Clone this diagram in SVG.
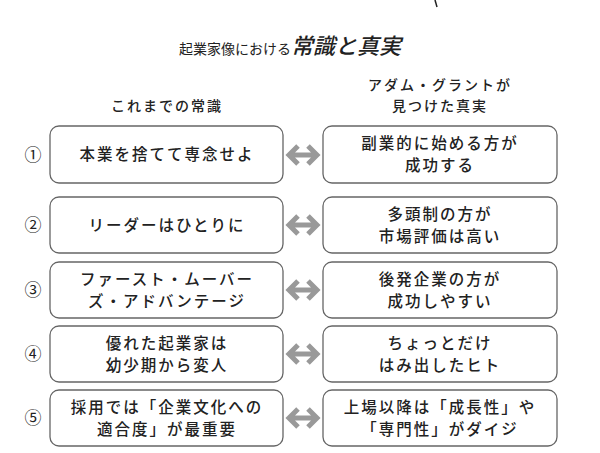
<svg xmlns="http://www.w3.org/2000/svg" width="600" height="453" viewBox="0 0 600 453">
<style>
text{font-family:"Noto Sans CJK JP","Noto Sans",sans-serif;fill:#222;text-anchor:middle;font-weight:500}
.b{fill:#fff;stroke:#666;stroke-width:1.3}
.t{font-size:15.5px;letter-spacing:2px}
.n{font-size:17px;font-weight:400}
.h{font-size:14px;letter-spacing:2px}
.ar{fill:none;stroke:#999;stroke-width:5;stroke-linejoin:miter}
</style>
<rect width="600" height="453" fill="#fff"/>
<path d="M435 0 L437 7" stroke="#222" stroke-width="1.5"/>
<g id="title"><text x="290" y="54"><tspan font-size="14" font-weight="400">起業家像における</tspan><tspan font-size="22" font-style="italic">常識と真実</tspan></text></g>
<g id="hdr-left"><text class="h" x="167" y="111">これまでの常識</text></g>
<g id="hdr-right"><text class="h" x="440" y="90">アダム・グラントが</text><text class="h" x="440" y="111">見つけた真実</text></g>
<g id="nums"><text class="n" x="33" y="161">①</text><text class="n" x="33" y="231">②</text><text class="n" x="33" y="296">③</text><text class="n" x="33" y="360">④</text><text class="n" x="33" y="424">⑤</text></g>
<g id="l1"><rect class="b" x="50" y="126" width="233" height="57" rx="9"/><text class="t" x="167" y="160">本業を捨てて専念せよ</text></g>
<g id="l2"><rect class="b" x="50" y="197" width="233" height="56" rx="9"/><text class="t" x="167" y="231">リーダーはひとりに</text></g>
<g id="l3"><rect class="b" x="50" y="262" width="233" height="56" rx="9"/><text class="t" x="167" y="285">ファースト・ムーバー</text><text class="t" x="167" y="307">ズ・アドバンテージ</text></g>
<g id="l4"><rect class="b" x="50" y="326" width="233" height="56" rx="9"/><text class="t" x="167" y="349">優れた起業家は</text><text class="t" x="167" y="371">幼少期から変人</text></g>
<g id="l5"><rect class="b" x="50" y="390" width="233" height="56" rx="9"/><text class="t" x="167" y="413">採用では「企業文化への</text><text class="t" x="167" y="435">適合度」が最重要</text></g>
<g id="r1"><rect class="b" x="323" y="126" width="234" height="57" rx="9"/><text class="t" x="440" y="149">副業的に始める方が</text><text class="t" x="440" y="171">成功する</text></g>
<g id="r2"><rect class="b" x="323" y="197" width="234" height="56" rx="9"/><text class="t" x="440" y="220">多頭制の方が</text><text class="t" x="440" y="242">市場評価は高い</text></g>
<g id="r3"><rect class="b" x="323" y="262" width="234" height="56" rx="9"/><text class="t" x="440" y="285">後発企業の方が</text><text class="t" x="440" y="307">成功しやすい</text></g>
<g id="r4"><rect class="b" x="323" y="326" width="234" height="56" rx="9"/><text class="t" x="440" y="349">ちょっとだけ</text><text class="t" x="440" y="371">はみ出したヒト</text></g>
<g id="r5"><rect class="b" x="323" y="390" width="234" height="56" rx="9"/><text class="t" x="440" y="413">上場以降は「成長性」や</text><text class="t" x="440" y="435">「専門性」がダイジ</text></g>
<g id="connectors">
<path class="ar" d="M289 155H317M298 146L289 155L298 164M308 146L317 155L308 164"/>
<path class="ar" d="M289 225H317M298 216L289 225L298 234M308 216L317 225L308 234"/>
<path class="ar" d="M289 290H317M298 281L289 290L298 299M308 281L317 290L308 299"/>
<path class="ar" d="M289 354H317M298 345L289 354L298 363M308 345L317 354L308 363"/>
<path class="ar" d="M289 418H317M298 409L289 418L298 427M308 409L317 418L308 427"/>
</g>
</svg>
